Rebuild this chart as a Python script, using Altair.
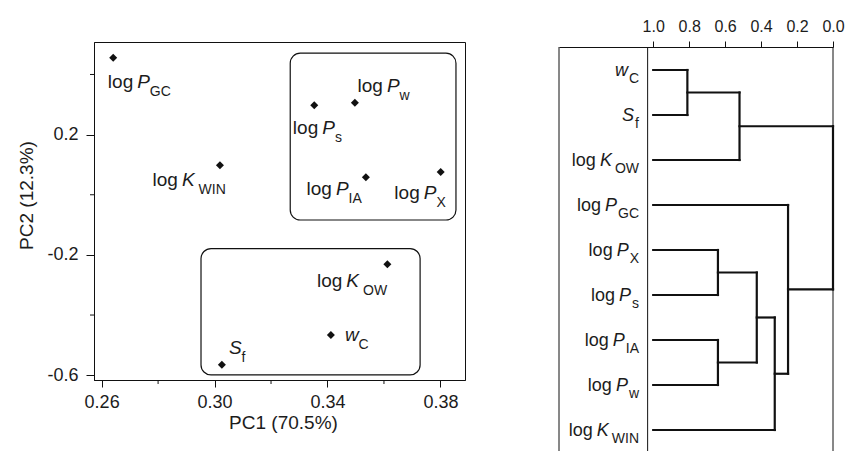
import altair as alt
import pandas as pd

# ---------------- data ----------------
VARIABLES = ["log P_GC", "log P_s", "log P_w", "log K_WIN", "log P_IA",
             "log P_X", "log K_OW", "w_C", "S_f"]
PC1 = [0.2641, 0.3353, 0.3497, 0.3019, 0.3536, 0.3801, 0.3612, 0.3412, 0.3026]
PC2 = [0.456, 0.298, 0.306, 0.098, 0.058, 0.076, -0.231, -0.466, -0.565]

# group outlines drawn in the score plot (PC1 / PC2 units)
BOX_PC1_FROM = [0.3268, 0.2952]
BOX_PC1_TO = [0.3855, 0.3728]
BOX_PC2_FROM = [-0.084, -0.599]
BOX_PC2_TO = [0.471, -0.179]

# dendrogram (similarity scale, leaves at 1.0)
LEAF_ORDER = ["w_C", "S_f", "log K_OW", "log P_GC", "log P_X", "log P_s",
              "log P_IA", "log P_w", "log K_WIN"]
MERGE_LEFT = ["w_C", "log P_X", "log P_IA", "c1", "c2", "c5", "log P_GC", "c4"]
MERGE_RIGHT = ["S_f", "log P_s", "log P_w", "log K_OW", "c3", "log K_WIN", "c6", "c7"]
MERGE_LEVEL = [0.81, 0.64, 0.64, 0.52, 0.424, 0.324, 0.25, 0.0]
LEAF_LEVEL = 1.0
LABEL_PANEL_EDGE = 1.031

X_TICKS = [0.26, 0.30, 0.34, 0.38]
X_MINOR = [0.28, 0.32, 0.36]
Y_TICKS = [-0.6, -0.2, 0.2]
Y_MINOR = [-0.4, 0.0, 0.4]
D_TICKS = [0.0, 0.2, 0.4, 0.6, 0.8, 1.0]

# ---------------- styles ----------------
FONT = "Liberation Sans, Arial, sans-serif"
INK = "#111111"
TXT = "#1c1c1c"
MAIN_FS = 19
SUB_FS = 14
DEND_FS = 18

# label anchor (start of the italic symbol, baseline) relative to the point, px
SCATTER_LABEL_OFFSET = {
    "log P_GC": (24, 30),
    "log P_s": (8, 29),
    "log P_w": (32, -11),
    "log K_WIN": (-38, 21),
    "log P_IA": (-30, 18),
    "log P_X": (-17, 27),
    "log K_OW": (-41, 23),
    "w_C": (14, 6),
    "S_f": (7, -11),
}

CHAR_W = {'l': 222, 'o': 556, 'g': 556, 'P': 667, 'K': 667, 'w': 722, 'S': 667,
          'G': 778, 'C': 722, 'W': 944, 'I': 278, 'N': 722, 'O': 778, 'A': 667,
          'X': 667, 's': 500, 'f': 278}


def text_w(s, fs):
    return sum(CHAR_W.get(c, 556) for c in s) * fs / 1000.0


def parts(name):
    main, sub = name.split("_")
    if main.startswith("log "):
        return "log", main[4:], sub
    return "", main, sub


# ---------------- score plot ----------------
W1, H1 = 371, 338
xs = alt.Scale(domain=[0.2573, 0.3887], nice=False, zero=False)
ys = alt.Scale(domain=[-0.616, 0.508], nice=False, zero=False)

pts_df = pd.DataFrame({"name": VARIABLES, "pc1": PC1, "pc2": PC2})
box_df = pd.DataFrame({"x0": BOX_PC1_FROM, "x1": BOX_PC1_TO,
                       "y0": BOX_PC2_FROM, "y1": BOX_PC2_TO})

x_axis = alt.Axis(values=X_TICKS, format=".2f", title="PC1 (70.5%)", titleY=33, titleX=189,
                  tickSize=7, labelPadding=6, labelFontSize=18, titleFontSize=19,
                  labelFlush=False, labelOverlap=False, grid=False)
y_axis = alt.Axis(values=Y_TICKS,
                  labelExpr="datum.value < 0 ? '-' + format(-datum.value, '.1f') : format(datum.value, '.1f')",
                  title="PC2 (12.3%)", titleX=-58, titleY=153,
                  tickSize=8, labelPadding=8, labelFontSize=18, titleFontSize=19,
                  labelFlush=False, labelOverlap=False, grid=False)


def X1(field):
    return alt.X(field, scale=xs, axis=x_axis)


def Y1(field):
    return alt.Y(field, scale=ys, axis=y_axis)


points = alt.Chart(pts_df).mark_point(shape="diamond", filled=True, size=64,
                                      color=INK, opacity=1).encode(
    x=X1("pc1:Q"), y=Y1("pc2:Q"))

boxes = alt.Chart(box_df).mark_rect(cornerRadius=10, fillOpacity=0, stroke=INK,
                                    strokeWidth=1.2).encode(
    x=X1("x0:Q"), x2="x1:Q", y=Y1("y0:Q"), y2="y1:Q")

x_minor = alt.Chart(pd.DataFrame({"v": X_MINOR})).mark_rule(color=INK, strokeWidth=1).encode(
    x=X1("v:Q"), y=alt.value(H1), y2=alt.value(H1 + 4))
y_minor = alt.Chart(pd.DataFrame({"w": Y_MINOR})).mark_rule(color=INK, strokeWidth=1).encode(
    y=Y1("w:Q"), x=alt.value(0), x2=alt.value(-4))

left_layers = [points, boxes, x_minor, y_minor]
for name in VARIABLES:
    pre, let, sub = parts(name)
    dx, dy = SCATTER_LABEL_OFFSET[name]
    src = alt.Chart(pts_df).transform_filter(alt.datum.name == name)
    if pre:
        left_layers.append(src.mark_text(align="right", baseline="alphabetic", dx=dx - 4, dy=dy,
                                         font=FONT, fontSize=MAIN_FS, color=TXT).encode(
            x=X1("pc1:Q"), y=Y1("pc2:Q"), text=alt.value(pre)))
    left_layers.append(src.mark_text(align="left", baseline="alphabetic", dx=dx, dy=dy,
                                     font=FONT, fontSize=MAIN_FS, fontStyle="italic",
                                     color=TXT).encode(
        x=X1("pc1:Q"), y=Y1("pc2:Q"), text=alt.value(let)))
    sub_dx = dx + text_w(let, MAIN_FS) + (4 if let == "K" else 0)
    left_layers.append(src.mark_text(align="left", baseline="alphabetic", dx=sub_dx, dy=dy + 8,
                                     font=FONT, fontSize=SUB_FS, color=TXT).encode(
        x=X1("pc1:Q"), y=Y1("pc2:Q"), text=alt.value(sub)))

left = alt.layer(*left_layers).properties(
    width=W1, height=H1, view=alt.ViewBackground(stroke=INK, strokeWidth=1))

# ---------------- dendrogram ----------------
W2, H2 = 274, 410
ds = alt.Scale(domain=[0, 1.524], reverse=True, nice=False, zero=False)
ls = alt.Scale(domain=[-0.6222, 8.4889], reverse=True, nice=False, zero=False)

node_y = {n: float(i) for i, n in enumerate(LEAF_ORDER)}
node_h = {n: LEAF_LEVEL for n in LEAF_ORDER}
segs = []
for k, (a, b, h) in enumerate(zip(MERGE_LEFT, MERGE_RIGHT, MERGE_LEVEL)):
    for c in (a, b):
        segs.append({"h0": node_h[c], "h1": h, "y0": node_y[c], "y1": node_y[c]})
    segs.append({"h0": h, "h1": h, "y0": node_y[a], "y1": node_y[b]})
    cname = "c%d" % (k + 1)
    node_y[cname] = (node_y[a] + node_y[b]) / 2.0
    node_h[cname] = h
seg_df = pd.DataFrame(segs)
leaf_df = pd.DataFrame({"name": LEAF_ORDER, "idx": list(range(len(LEAF_ORDER)))})

top_axis = alt.Axis(orient="top", values=D_TICKS, format=".1f", offset=-5, tickSize=6,
                    labelPadding=7, labelFontSize=16, title=None, labelFlush=False,
                    labelOverlap=False, grid=False)


def X2(field):
    return alt.X(field, scale=ds, axis=top_axis)


def Y2(field):
    return alt.Y(field, scale=ls, axis=None)


tree = alt.Chart(seg_df).mark_rule(color=INK, strokeWidth=2.2, strokeCap="square").encode(
    x=X2("h0:Q"), x2="h1:Q", y=Y2("y0:Q"), y2="y1:Q")

frame_lines = alt.Chart(pd.DataFrame({"v": [0.0, LABEL_PANEL_EDGE]})).mark_rule(
    color=INK, strokeWidth=1).encode(
    x=X2("v:Q"), y=alt.value(5), y2=alt.value(H2 + 10))
frame_left = alt.Chart(pd.DataFrame({"v": [0.0]})).mark_rule(color=INK, strokeWidth=1).encode(
    x=alt.value(0), y=alt.value(5), y2=alt.value(H2 + 10))

right_layers = [tree, frame_left, frame_lines]
LABEL_RIGHT_PX = 80
for name in LEAF_ORDER:
    pre, let, sub = parts(name)
    src = alt.Chart(leaf_df).transform_filter(alt.datum.name == name)
    subw = text_w(sub, SUB_FS)
    letw = text_w(let, DEND_FS)
    gap = 3 if let == "K" else 1
    right_layers.append(src.mark_text(align="right", baseline="alphabetic", dx=0, dy=13,
                                      font=FONT, fontSize=SUB_FS, color=TXT).encode(
        x=alt.value(LABEL_RIGHT_PX), y=Y2("idx:Q"), text=alt.value(sub)))
    right_layers.append(src.mark_text(align="right", baseline="alphabetic", dx=-(subw + gap), dy=6,
                                      font=FONT, fontSize=DEND_FS, fontStyle="italic",
                                      color=TXT).encode(
        x=alt.value(LABEL_RIGHT_PX), y=Y2("idx:Q"), text=alt.value(let)))
    if pre:
        right_layers.append(src.mark_text(align="right", baseline="alphabetic",
                                          dx=-(subw + gap + letw + 4), dy=6,
                                          font=FONT, fontSize=DEND_FS, color=TXT).encode(
            x=alt.value(LABEL_RIGHT_PX), y=Y2("idx:Q"), text=alt.value(pre)))

right = alt.layer(*right_layers).properties(
    width=W2, height=H2, view=alt.ViewBackground(stroke="transparent"))

chart = alt.hconcat(left, right, spacing=94, bounds="flush").properties(
    padding={"left": 16, "top": 17, "right": 0, "bottom": 0}
).configure(font=FONT).configure_axis(
    labelFont=FONT, titleFont=FONT, labelColor=TXT, titleColor=TXT,
    domainColor=INK, tickColor=INK, domainWidth=1, tickWidth=1,
    titleFontWeight="normal", labelFontWeight="normal",
)

chart.save("out.html", embed_options={"renderer": "svg", "actions": False})
